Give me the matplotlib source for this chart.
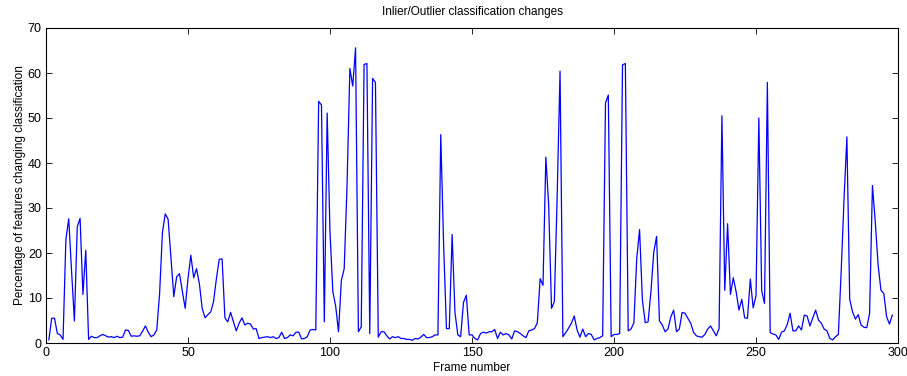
import matplotlib
matplotlib.use("Agg")
import matplotlib.pyplot as plt
import numpy as np

plt.rcParams['font.family'] = ['Liberation Sans', 'DejaVu Sans']

frames = list(range(1, 299))
pct_changed = [
    0.7, 5.5, 5.5, 2.1, 1.8, 0.8, 23, 27.6, 16, 4.9,
    25.8, 27.7, 10.8, 20.6, 0.8, 1.5, 1.2, 1.2, 1.6, 1.9,
    1.6, 1.3, 1.4, 1.2, 1.5, 1.2, 1.3, 2.9, 2.8, 1.5,
    1.6, 1.5, 1.6, 2.6, 3.8, 2.4, 1.4, 1.8, 2.9, 11,
    24.6, 28.7, 27.5, 19, 10.3, 14.7, 15.4, 11.5, 7.7, 14.3,
    19.5, 14.5, 16.5, 13.2, 7.7, 5.6, 6.3, 6.9, 9.2, 14.3,
    18.6, 18.7, 5.6, 4.7, 6.8, 4.7, 2.7, 4.4, 5.6, 4.0,
    4.4, 4.2, 3.1, 3.2, 1.0, 1.2, 1.3, 1.4, 1.2, 1.4,
    1.0, 1.2, 2.4, 1.0, 1.2, 1.8, 1.6, 2.4, 2.4, 0.9,
    1.0, 1.4, 2.9, 3.0, 2.9, 53.7, 52.9, 4.7, 51.1, 24.6,
    11.4, 8.2, 2.5, 13.9, 16.5, 35, 61, 57.1, 65.6, 2.5,
    3.6, 61.9, 62.1, 2.1, 58.8, 57.9, 1.3, 2.5, 2.5, 1.6,
    0.9, 1.4, 1.2, 1.4, 1.0, 1.0, 0.8, 0.8, 0.6, 1.0,
    0.9, 1.3, 1.9, 1.2, 1.2, 1.4, 1.8, 1.8, 46.3, 22,
    3.2, 3.2, 24.1, 6.8, 1.8, 1.4, 9.0, 10.6, 1.8, 1.8,
    1.0, 0.7, 2.1, 2.4, 2.2, 2.5, 2.5, 3.0, 1.0, 2.4,
    1.8, 2.1, 1.8, 0.9, 2.7, 2.5, 2.1, 1.6, 1.2, 2.7,
    2.9, 3.2, 4.5, 14.3, 12.8, 41.3, 30.6, 7.7, 9.2, 33,
    60.4, 1.4, 2.3, 3.3, 4.4, 6.0, 2.9, 1.3, 3.1, 1.4,
    2.1, 1.9, 0.7, 1.0, 1.2, 1.6, 53.3, 55.1, 1.4, 1.9,
    1.9, 2.1, 61.8, 62.1, 2.7, 3.1, 4.5, 18.7, 25.2, 9.5,
    4.5, 4.7, 11.4, 20.2, 23.7, 4.9, 4.0, 2.5, 3.1, 5.8,
    7.3, 2.5, 3.1, 6.8, 6.6, 5.5, 4.4, 2.4, 1.6, 1.4,
    1.3, 1.9, 3.1, 3.8, 2.7, 1.6, 3.2, 50.5, 11.7, 26.5,
    10.8, 14.5, 11.4, 7.3, 9.7, 5.6, 5.5, 14.2, 7.8, 10.5,
    50, 11.6, 8.8, 57.9, 2.3, 2.0, 1.8, 0.8, 2.4, 2.7,
    4.1, 6.6, 2.7, 2.7, 3.8, 2.9, 6.2, 6.0, 3.8, 5.6,
    7.3, 5.1, 4.4, 3.1, 2.7, 1.0, 0.7, 1.4, 1.9, 16,
    32, 45.8, 9.7, 6.9, 5.3, 6.3, 4.0, 3.5, 3.4, 6.6,
    35, 26.9, 17.3, 11.7, 11.0, 5.8, 4.2, 6.2,
]

x_ticks = [0, 50, 100, 150, 200, 250, 300]
y_ticks = [0, 10, 20, 30, 40, 50, 60, 70]

fig = plt.figure(figsize=(9.07, 3.76), dpi=100)
ax = fig.add_axes([46/907, 33/376, 852/907, 315/376])
ax.plot(frames, pct_changed, color=(0, 0, 1), linewidth=0.9)
ax.set_xlim(0, 300)
ax.set_ylim(0, 70)
ax.set_xticks(x_ticks)
ax.set_yticks(y_ticks)
ax.tick_params(direction='in', top=True, right=True, labelsize=9, length=4, width=0.6, pad=3)
for s in ax.spines.values():
    s.set_linewidth(0.8)
ax.set_title("Inlier/Outlier classification changes", fontsize=8.5, pad=9)
ax.set_xlabel("Frame number", fontsize=8.5, labelpad=2)
ax.set_ylabel("Percentage of features changing classification", fontsize=8.5, labelpad=1)
fig.savefig("out.png", dpi=100)
